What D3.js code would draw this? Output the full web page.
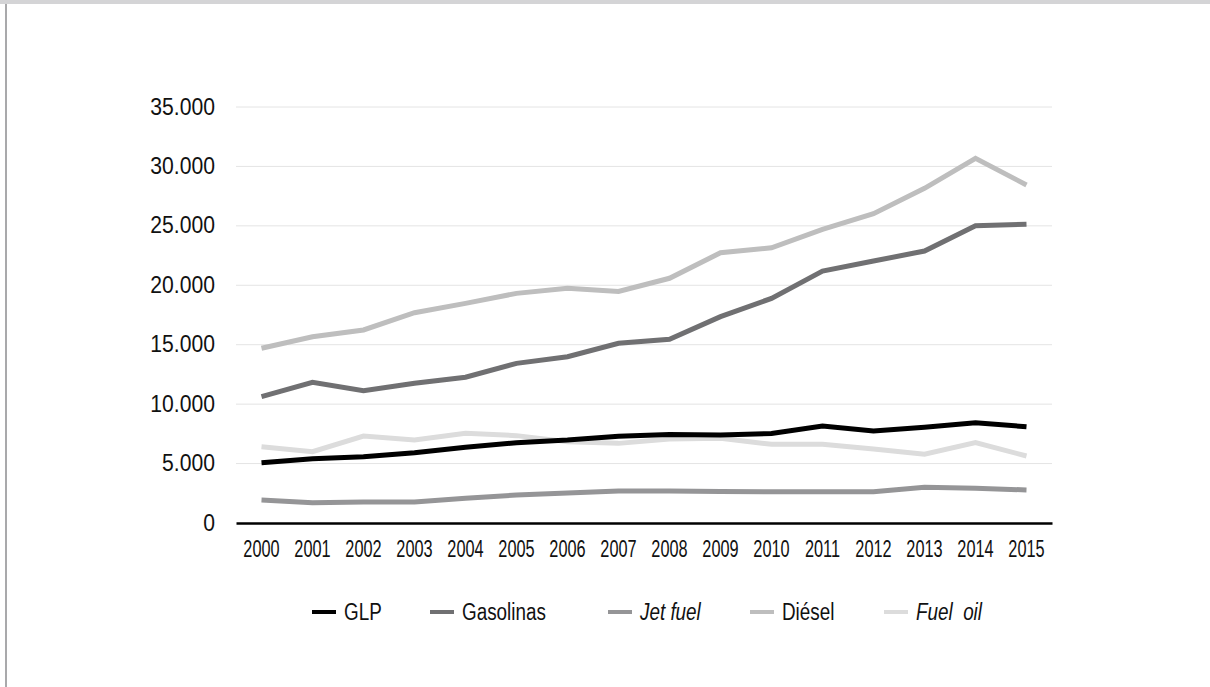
<!DOCTYPE html>
<html>
<head>
<meta charset="utf-8">
<script src="https://cdn.jsdelivr.net/npm/d3@7"></script>
<style>
  body { margin: 0; background: #fff; }
  svg { display: block; font-family: "Liberation Sans", Arial, sans-serif; }
</style>
</head>
<body>
<svg width="1210" height="687"></svg>
<script>
const years = [2000, 2001, 2002, 2003, 2004, 2005, 2006, 2007, 2008, 2009, 2010, 2011, 2012, 2013, 2014, 2015];
const seriesNames = ['GLP', 'Gasolinas', 'Jet fuel', 'Diésel', 'Fuel  oil'];
const glp       = [5070, 5410, 5580, 5920, 6370, 6760, 6980, 7300, 7450, 7400, 7540, 8160, 7740, 8050, 8440, 8100];
const gasolinas = [10630, 11840, 11130, 11750, 12260, 13430, 13990, 15120, 15450, 17360, 18900, 21200, 22040, 22880, 25010, 25130];
const jetFuel   = [1935, 1710, 1770, 1770, 2080, 2350, 2520, 2690, 2690, 2660, 2630, 2630, 2630, 3000, 2920, 2780];
const diesel    = [14700, 15670, 16240, 17690, 18480, 19320, 19740, 19480, 20590, 22740, 23160, 24710, 26030, 28160, 30680, 28440];
const fuelOil   = [6420, 6000, 7320, 6980, 7550, 7350, 6840, 6700, 7070, 7120, 6620, 6620, 6230, 5780, 6760, 5640];
const yTicks = [0, 5000, 10000, 15000, 20000, 25000, 30000, 35000];

const svg = d3.select('svg');
const width = +svg.attr('width');
const height = +svg.attr('height');

// page frame
svg.append('rect').attr('x', 0).attr('y', 0).attr('width', width).attr('height', 4).attr('fill', '#d4d4d6');
svg.append('rect').attr('x', 5).attr('y', 4).attr('width', 2).attr('height', height - 4).attr('fill', '#a9a9ab');

const series = [
  { name: seriesNames[0], values: glp,       color: '#000000', italic: false },
  { name: seriesNames[1], values: gasolinas, color: '#707072', italic: false },
  { name: seriesNames[2], values: jetFuel,   color: '#959597', italic: true },
  { name: seriesNames[3], values: diesel,    color: '#bebebe', italic: false },
  { name: seriesNames[4], values: fuelOil,   color: '#dcdcdc', italic: true }
];

const xScale = d3.scaleBand()
  .domain(years)
  .range([236, 1052]);

const yScale = d3.scaleLinear()
  .domain([0, 35000])
  .range([523, 107]);

const fmt = d3.formatLocale({ decimal: ',', thousands: '.', grouping: [3], currency: ['', ''] }).format(',d');

// gridlines
svg.append('g')
  .selectAll('line')
  .data(yTicks.slice(1))
  .enter()
  .append('line')
    .attr('x1', 236)
    .attr('x2', 1052)
    .attr('y1', d => yScale(d))
    .attr('y2', d => yScale(d))
    .attr('stroke', '#e4e4e4')
    .attr('stroke-width', 1);

// y labels
svg.append('g')
  .selectAll('text')
  .data(yTicks)
  .enter()
  .append('text')
    .attr('transform', d => `translate(215, ${yScale(d) + 7.5}) scale(0.92, 1)`)
    .attr('text-anchor', 'end')
    .attr('font-size', 23)
    .attr('fill', '#111')
    .text(d => fmt(d));

// x axis
const xAxis = d3.axisBottom(xScale).tickSize(0).tickPadding(0);
const xAxisGroup = svg.append('g')
  .attr('transform', `translate(0, ${yScale(0)})`)
  .call(xAxis);
xAxisGroup.select('.domain').attr('stroke', '#000').attr('stroke-width', 2.5);
xAxisGroup.selectAll('text')
  .attr('font-size', 23)
  .attr('font-family', '"Liberation Sans", Arial, sans-serif')
  .attr('fill', '#111')
  .attr('dy', null)
  .attr('y', 0)
  .attr('transform', 'translate(0, 34) scale(0.71, 1)');

// lines
const line = d3.line()
  .x((d, i) => xScale(years[i]) + xScale.bandwidth() / 2)
  .y(d => yScale(d));

svg.append('g')
  .selectAll('path')
  .data(series.slice().reverse())
  .enter()
  .append('path')
    .attr('d', d => line(d.values))
    .attr('fill', 'none')
    .attr('stroke', d => d.color)
    .attr('stroke-width', 5)
    .attr('stroke-linejoin', 'miter');

// legend
const legendX = [312, 430, 608, 750, 884];
const legend = svg.append('g')
  .selectAll('g')
  .data(series)
  .enter()
  .append('g')
    .attr('transform', (d, i) => `translate(${legendX[i]}, 612)`);

legend.append('line')
  .attr('x1', 0).attr('x2', 24)
  .attr('stroke', d => d.color)
  .attr('stroke-width', 4);

legend.append('text')
  .attr('transform', 'translate(32, 8) scale(0.82, 1)')
  .attr('font-size', 23)
  .attr('font-style', d => d.italic ? 'italic' : 'normal')
  .attr('fill', '#111')
  .attr('xml:space', 'preserve')
  .style('white-space', 'pre')
  .text(d => d.name);
</script>
</body>
</html>
